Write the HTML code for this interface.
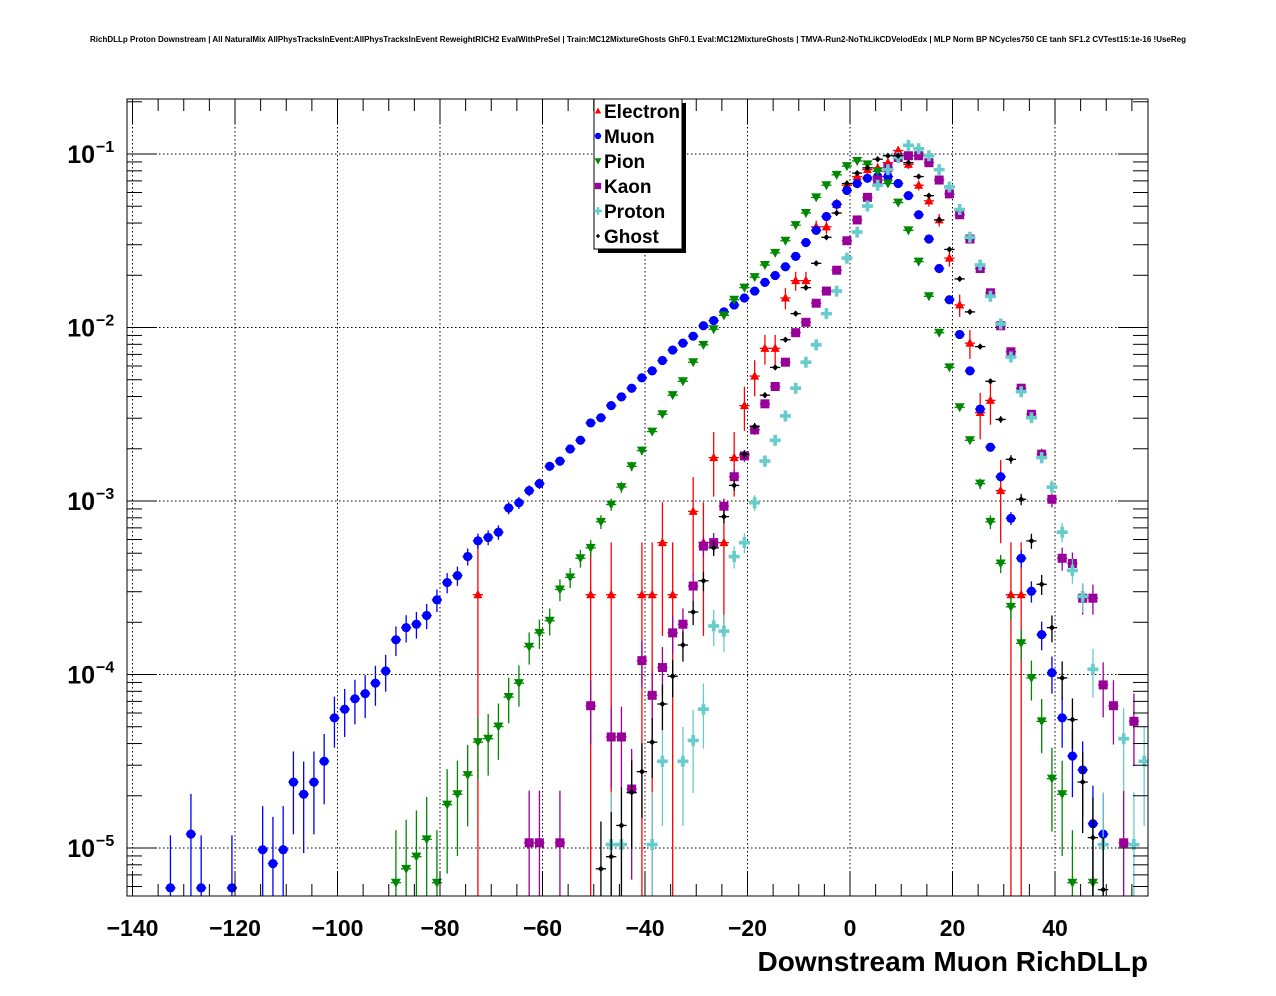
<!DOCTYPE html>
<html><head><meta charset="utf-8"><style>
html,body{margin:0;padding:0;background:#fff;width:1276px;height:996px;overflow:hidden;}
svg{display:block;font-family:"Liberation Sans",Arial,sans-serif;}
</style></head><body>
<svg id="plot" width="1276" height="996" viewBox="0 0 1276 996" xmlns="http://www.w3.org/2000/svg">
<rect x="0" y="0" width="1276" height="996" fill="#fff"/>
<text x="638" y="42" font-size="8.0" font-weight="bold" text-anchor="middle">RichDLLp Proton Downstream | All NaturalMix AllPhysTracksInEvent:AllPhysTracksInEvent ReweightRICH2 EvalWithPreSel | Train:MC12MixtureGhosts GhF0.1 Eval:MC12MixtureGhosts | TMVA-Run2-NoTkLikCDVelodEdx | MLP Norm BP NCycles750 CE tanh SF1.2 CVTest15:1e-16 !UseReg</text>
<defs><clipPath id="fc"><rect x="127" y="99" width="1021" height="797"/></clipPath></defs>
<g id="grid"></g>
<g id="marks" clip-path="url(#fc)"></g>
<rect x="127" y="99" width="1021" height="797" fill="none" stroke="#000" stroke-width="1"/>
<g id="axes"></g>
<text x="1148" y="971" font-size="28" font-weight="bold" text-anchor="end">Downstream Muon RichDLLp</text>
<g id="legend"></g>
</svg>
<script>
// bins: width 2, first bin centre -132.6
const binFirstCentre = -132.6;
const binWidth = 2;
const seriesNames = ["Electron","Muon","Pion","Kaon","Proton","Ghost"];
// log10 of bin content; start = first bin index
const electronStart = 30;
const electronLog = [-3.54,null,null,null,null,null,null,null,null,null,null,-3.54,null,-3.54,null,null,-3.54,-3.54,-3.24,-3.54,null,-3.06,-3.24,-2.75,-3.24,-2.75,-2.45,-2.28,-2.12,-2.12,-1.83,-1.73,-1.73,-1.42,-1.42,-1.29,-1.18,-1.13,-1.09,-1.08,-1.05,-0.98,-1.06,-1.18,-1.27,-1.38,-1.60,-1.87,-2.09,-2.49,-2.42,-2.94,-3.54,-3.54];
const muonStart = 0;
const muonLog = [-5.23,null,-4.92,-5.23,null,null,-5.23,null,null,-5.01,-5.09,-5.01,-4.62,-4.69,-4.62,-4.50,-4.25,-4.20,-4.14,-4.11,-4.05,-3.98,-3.80,-3.73,-3.71,-3.66,-3.57,-3.47,-3.43,-3.32,-3.23,-3.21,-3.18,-3.04,-3.01,-2.94,-2.90,-2.80,-2.77,-2.70,-2.65,-2.55,-2.52,-2.45,-2.40,-2.35,-2.29,-2.25,-2.19,-2.13,-2.09,-2.05,-1.99,-1.96,-1.91,-1.87,-1.83,-1.79,-1.74,-1.70,-1.65,-1.59,-1.51,-1.44,-1.36,-1.29,-1.21,-1.17,-1.14,-1.13,-1.13,-1.17,-1.24,-1.35,-1.49,-1.66,-1.84,-2.04,-2.25,-2.47,-2.69,-2.86,-3.10,-3.33,-3.52,-3.77,-3.99,-4.25,-4.47,-4.55,-4.86,-4.92];
const pionStart = 22;
const pionLog = [-5.20,-5.12,-5.05,-4.95,-5.20,-4.75,-4.69,-4.58,-4.39,-4.37,-4.30,-4.13,-4.05,-3.84,-3.76,-3.69,-3.51,-3.44,-3.33,-3.27,-3.12,-3.02,-2.92,-2.80,-2.71,-2.60,-2.50,-2.39,-2.31,-2.20,-2.10,-2.01,-1.93,-1.84,-1.77,-1.71,-1.64,-1.57,-1.50,-1.41,-1.34,-1.25,-1.18,-1.12,-1.07,-1.04,-1.06,-1.10,-1.17,-1.28,-1.44,-1.62,-1.82,-2.03,-2.23,-2.46,-2.65,-2.90,-3.12,-3.36,-3.61,-3.82,-4.02,-4.27,-4.60,-4.69,-5.20,null,-5.20];
const kaonStart = 35;
const kaonLog = [-4.97,-4.97,null,-4.97,null,null,-4.18,null,-4.36,-4.36,-4.66,-3.92,-4.12,-3.96,-3.76,-3.71,-3.49,-3.26,-3.24,-3.03,-2.86,-2.74,-2.59,-2.44,-2.34,-2.20,-2.03,-1.97,-1.86,-1.79,-1.67,-1.50,-1.38,-1.25,-1.15,-1.08,-1.02,-1.01,-1.01,-1.05,-1.15,-1.23,-1.35,-1.49,-1.66,-1.80,-1.99,-2.14,-2.35,-2.50,-2.73,-2.99,-3.33,-3.36,-3.56,-3.56,-4.06,-4.18,-4.97,-4.27];
const protonStart = 43;
const protonLog = [-4.98,-4.98,null,null,-4.98,-4.50,null,-4.50,-4.38,-4.20,-3.72,-3.75,-3.32,-3.24,-3.01,-2.77,-2.65,-2.51,-2.35,-2.20,-2.10,-1.92,-1.79,-1.60,-1.45,-1.30,-1.18,-1.09,-1.02,-0.95,-0.97,-1.01,-1.09,-1.19,-1.32,-1.48,-1.64,-1.82,-1.98,-2.17,-2.37,-2.52,-2.75,-2.92,-3.18,-3.40,-3.55,-3.97,-4.98,null,-4.37,-4.98,-4.50];
const ghostStart = 42;
const ghostLog = [-5.12,-5.05,-4.87,-4.68,-4.56,-4.39,-4.17,-4.01,-3.83,-3.64,-3.46,-3.27,-3.09,-2.91,-2.73,-2.57,-2.39,-2.23,-2.07,-1.92,-1.77,-1.63,-1.48,-1.34,-1.17,-1.11,-1.08,-1.03,-1.01,-1.01,-1.05,-1.13,-1.24,-1.38,-1.55,-1.72,-1.91,-2.11,-2.31,-2.53,-2.76,-2.99,-3.23,-3.48,-3.73,-4.02,-4.26,-4.62,-4.94,-5.24];
// single-entry weight per series (for sqrt(N) errors)
const unitWeights = [2.9e-4, 6.0e-6, 6.4e-6, 1.07e-5, 1.05e-5, 5.8e-6];
const xTickLabels = ["−140","−120","−100","−80","−60","−40","−20","0","20","40"];
const xTickValues = [-140,-120,-100,-80,-60,-40,-20,0,20,40];
const yDecades = [-1,-2,-3,-4,-5];

const NS="http://www.w3.org/2000/svg";
const FL=127, FR=1148, FT=99, FB=896;
const xpx = v => 850 + v*5.125;
const ypx = L => 154 + (-1 - L)*173.5;
function mk(tag, attrs, parent){const e=document.createElementNS(NS,tag);for(const k in attrs)e.setAttribute(k,attrs[k]);parent.appendChild(e);return e;}

const grid=document.getElementById('grid'), axes=document.getElementById('axes'), marks=document.getElementById('marks'), legend=document.getElementById('legend');
xTickValues.forEach((v,i)=>{
  const x=xpx(v);
  if(x>FL+1){const g=mk('line',{x1:x,y1:FT,x2:x,y2:FB,stroke:'#000','stroke-width':1,'stroke-dasharray':'1.5,2.5'},grid);
  
  }
  const t=mk('text',{x:x,y:936,'font-size':23,'font-weight':'bold','text-anchor':'middle'},axes);
  t.textContent=xTickLabels[i];
  
  
});
for(let v=-140; v<=58; v+=5){
  const x=xpx(v); if(x<FL||x>FR) continue;
  const len = (v%20===0)?24:12;
  mk('line',{x1:x,y1:FB,x2:x,y2:FB-len,stroke:'#000','stroke-width':1},axes);
  mk('line',{x1:x,y1:FT,x2:x,y2:FT+len,stroke:'#000','stroke-width':1},axes);
}
yDecades.forEach(d=>{
  const y=ypx(d);
  const g=mk('line',{x1:FL,y1:y,x2:FR,y2:y,stroke:'#000','stroke-width':1,'stroke-dasharray':'1.5,2.5'},grid);
  
  
  const t=mk('text',{x:95,y:y+9,'font-size':25,'font-weight':'bold','text-anchor':'end'},axes);
  t.textContent='10';
  
  
  const s=mk('text',{x:96,y:y-2,'font-size':16,'font-weight':'bold'},axes);
  s.textContent='−'+(-d);
  
  
});
for(let d=-6; d<=0; d++){
  for(let m=1;m<=9;m++){
    const L=d+Math.log10(m); const y=ypx(L);
    if(y<FT||y>FB) continue;
    const len=(m===1)?30:15;
    mk('line',{x1:FL,y1:y,x2:FL+len,y2:y,stroke:'#000','stroke-width':1},axes);
    mk('line',{x1:FR,y1:y,x2:FR-len,y2:y,stroke:'#000','stroke-width':1},axes);
  }
}
const colors=['#ff0000','#0000ff','#008800','#990099','#66cccc','#000000'];
function marker(kind,x,y,col,parent){
  let e;
  if(kind===0) e=mk('polygon',{points:`${x},${y-5} ${x-4.5},${y+3.5} ${x+4.5},${y+3.5}`,fill:col},parent);
  else if(kind===1) e=mk('circle',{cx:x,cy:y,r:4.6,fill:col},parent);
  else if(kind===2) e=mk('polygon',{points:`${x-5},${y-4} ${x+5},${y-4} ${x},${y+5}`,fill:col},parent);
  else if(kind===3) e=mk('rect',{x:x-4.5,y:y-4.5,width:9,height:9,fill:col},parent);
  else if(kind===4) e=mk('path',{d:`M${x-5.5},${y-1.8}h3.7v-3.7h3.6v3.7h3.7v3.6h-3.7v3.7h-3.6v-3.7h-3.7z`,fill:col},parent);
  else e=mk('path',{d:`M${x},${y-3.2}L${x+3},${y}L${x},${y+3.2}L${x-3},${y}z`,fill:col},parent);
  return e;
}
const allStarts=[electronStart,muonStart,pionStart,kaonStart,protonStart,ghostStart];
const allLogs=[electronLog,muonLog,pionLog,kaonLog,protonLog,ghostLog];
allLogs.forEach((arr,si)=>{
  const g=mk('g',{},marks);
  
  
  const col=colors[si], u=unitWeights[si];
  arr.forEach((L,i)=>{
    if(L===null) return;
    const c=binFirstCentre+(allStarts[si]+i)*binWidth;
    const x=xpx(c), y=ypx(L);
    const v=Math.pow(10,L), err=Math.sqrt(v*u);
    const yTop=ypx(Math.log10(v+err));
    const yBot=(v-err)>1e-9? Math.min(ypx(Math.log10(v-err)),FB+5) : FB+5;
    mk('line',{x1:x,y1:yTop,x2:x,y2:yBot,stroke:col,'stroke-width':1.3},g);
    mk('line',{x1:xpx(c-binWidth/2),y1:y,x2:xpx(c+binWidth/2),y2:y,stroke:col,'stroke-width':1.3},g);
    const m=marker(si,x,y,col,g);
    
    
  });
});
mk('rect',{x:598,y:103,width:88,height:150,fill:'#000'},legend);
const box=mk('rect',{x:594,y:99,width:88,height:150,fill:'#fff',stroke:'#000','stroke-width':1},legend);


seriesNames.forEach((n,i)=>{
  const y=111+i*25;
  const g=mk('g',{},legend);
  
  
  const m=marker(i,598,y,colors[i],g);
  m.setAttribute('transform',`translate(${598*0.3},${y*0.3}) scale(0.7)`);
  const t=mk('text',{x:604,y:y+7,'font-size':19,'font-weight':'bold'},g);
  t.textContent=n;
});
</script>
</body></html>
